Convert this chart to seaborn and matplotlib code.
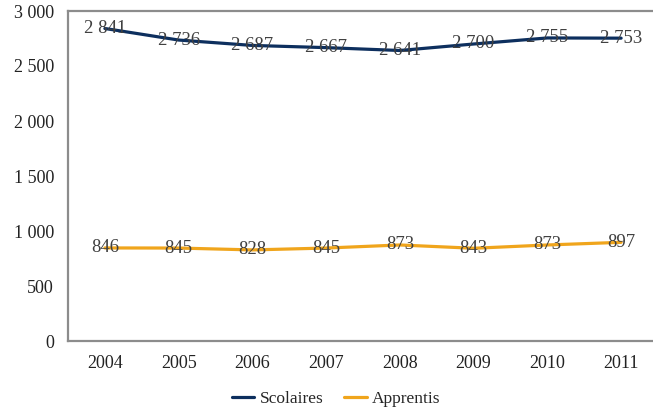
import pandas as pd
import matplotlib.pyplot as plt
import seaborn as sns

# données
annees = ['2004', '2005', '2006', '2007', '2008', '2009', '2010', '2011']
scolaires = [2841, 2736, 2687, 2667, 2641, 2700, 2755, 2753]
apprentis = [846, 845, 828, 845, 873, 843, 873, 897]
series = ['Scolaires', 'Apprentis']
couleurs = {'Scolaires': '#0d2f5e', 'Apprentis': '#f0a51c'}

df = pd.DataFrame({'annee': annees * 2,
                   'valeur': scolaires + apprentis,
                   'serie': ['Scolaires'] * 8 + ['Apprentis'] * 8})

sns.set_style('white')
plt.rcParams['font.family'] = ['Liberation Serif', 'DejaVu Serif']


def fmt(v):
    return f'{v:,}'.replace(',', ' ')


fig = plt.figure(figsize=(6.53, 4.11), dpi=100)
ax = fig.add_axes([68 / 653, 70 / 411, 590 / 653, 330 / 411])

sns.lineplot(data=df, x='annee', y='valeur', hue='serie', hue_order=series,
             palette=couleurs, linewidth=2.3, ax=ax, legend=True, sort=False)

# étiquettes de valeurs
for serie, vals in [('Scolaires', scolaires), ('Apprentis', apprentis)]:
    for i, v in enumerate(vals):
        ax.text(i, v, fmt(v), ha='center', va='center', fontsize=13.5,
                color='#404040')

ax.set_xlim(-0.5, 7.5)
ax.set_ylim(0, 3000)
ax.set_yticks(range(0, 3001, 500))
ax.set_yticklabels([fmt(v) for v in range(0, 3001, 500)])
ax.set_xlabel('')
ax.set_ylabel('')
ax.tick_params(axis='both', length=0, labelsize=13, colors='#222222')
ax.tick_params(axis='y', pad=10)
ax.tick_params(axis='x', pad=10)

for cote in ['left', 'top', 'bottom']:
    ax.spines[cote].set_color('#8c8c8c')
    ax.spines[cote].set_linewidth(1.6)
ax.spines['right'].set_visible(False)

ax.legend(loc='center', bbox_to_anchor=(336 / 653, 12 / 411),
          bbox_transform=fig.transFigure, ncol=2, frameon=False,
          fontsize=12.5, handlelength=1.3, handletextpad=0.3, columnspacing=1.2)

fig.savefig('out.png', dpi=100)
